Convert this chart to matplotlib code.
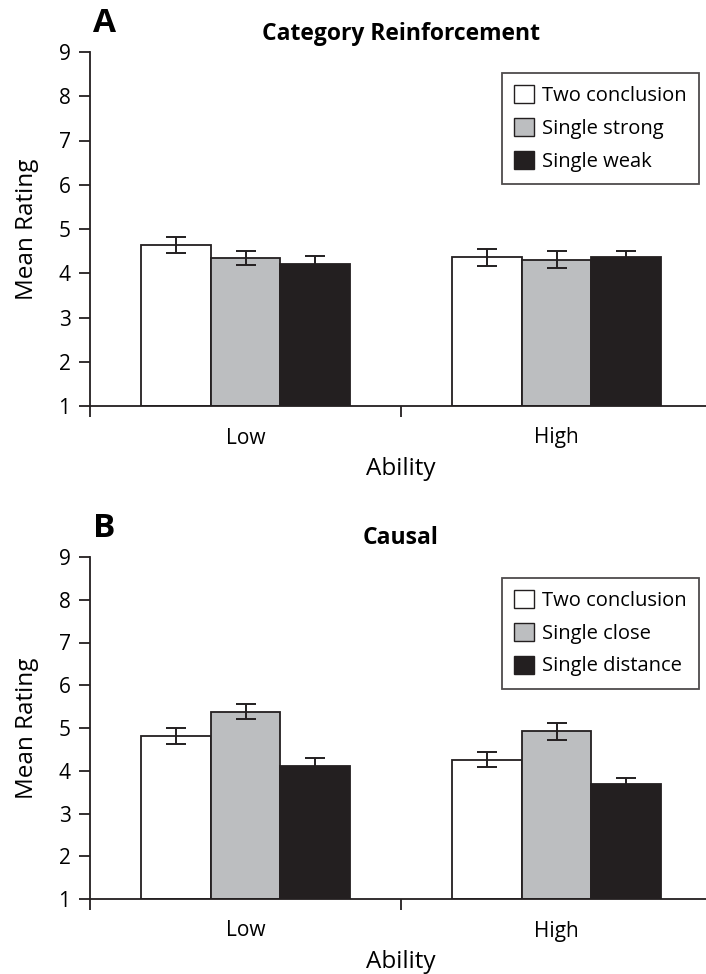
import matplotlib
matplotlib.use('Agg')
import matplotlib.pyplot as plt
from matplotlib.patches import Patch
import numpy as np

plt.rcParams['font.family'] = ['Open Sans', 'DejaVu Sans']

groups = ['Low', 'High']

# panel A - category reinforcement
a_labels = ['Two conclusion', 'Single strong', 'Single weak']
a_means = [[4.64, 4.36], [4.35, 4.31], [4.22, 4.36]]
a_errs = [[0.19, 0.19], [0.16, 0.19], [0.17, 0.14]]

# panel B - causal
b_labels = ['Two conclusion', 'Single close', 'Single distance']
b_means = [[4.82, 4.26], [5.38, 4.92], [4.12, 3.68]]
b_errs = [[0.19, 0.17], [0.17, 0.19], [0.18, 0.14]]

colors = ['white', '#bcbec0', '#231f20']
dark = '#231f20'
W, H = 706, 974


def panel(ax, means, errs, labels, title, letter):
    x = np.arange(len(groups))
    bw = 0.225
    for i in range(3):
        pos = x + (i - 1) * bw
        ax.bar(pos, np.array(means[i]) - 1, bw, bottom=1, color=colors[i],
               edgecolor=dark, linewidth=1.3, zorder=2)
        ax.errorbar(pos, means[i], yerr=errs[i], fmt='none', ecolor=dark,
                    elinewidth=1.4, capsize=7, capthick=1.4, zorder=3)
    ax.set_xlim(-0.5, 1.5)
    ax.set_ylim(1, 9)
    ax.set_yticks(range(1, 10))
    ax.set_xticks([-0.5, 0.5, 1.5])
    ax.set_xticklabels([])
    for xi, g in zip(x, groups):
        ax.annotate(g, (xi, 0), xycoords=ax.get_xaxis_transform(),
                    xytext=(0, -32), textcoords='offset pixels',
                    ha='center', va='center', fontsize=15)
    ax.annotate('Ability', (0.5, 0), xycoords='axes fraction',
                xytext=(0, -63), textcoords='offset pixels',
                ha='center', va='center', fontsize=17.5)
    ax.spines['top'].set_visible(False)
    ax.spines['right'].set_visible(False)
    for s in ['left', 'bottom']:
        ax.spines[s].set_color(dark)
        ax.spines[s].set_linewidth(1.3)
    ax.tick_params(axis='both', direction='out', length=8, width=1.3,
                   color=dark, labelsize=15, pad=6)
    ax.set_ylabel('Mean Rating', fontsize=17.5, labelpad=14)
    ax.set_title(title, fontsize=16.5, fontweight='bold', pad=9)
    ax.text(0.005, 1.035, letter, transform=ax.transAxes, fontsize=24,
            fontweight='bold', ha='left', va='bottom')
    handles = [Patch(facecolor=c, edgecolor=dark, linewidth=1.0) for c in colors]
    leg = ax.legend(handles, labels, loc='upper right', bbox_to_anchor=(0.979, 0.94),
                    fontsize=14.5, frameon=True, fancybox=False, handlelength=1.0,
                    handleheight=1.0, handletextpad=0.4, borderpad=0.6,
                    labelspacing=0.6, borderaxespad=0)
    leg.get_frame().set_edgecolor(dark)
    leg.get_frame().set_linewidth(1.3)


fig = plt.figure(figsize=(W / 100, H / 100), dpi=100)
left = 90 / W
width = 622 / W
ax1 = fig.add_axes([left, (H - 406) / H, width, (406 - 52) / H])
ax2 = fig.add_axes([left, (H - 899) / H, width, (899 - 557) / H])
panel(ax1, a_means, a_errs, a_labels, 'Category Reinforcement', 'A')
panel(ax2, b_means, b_errs, b_labels, 'Causal', 'B')
fig.savefig('out.png', dpi=100)
